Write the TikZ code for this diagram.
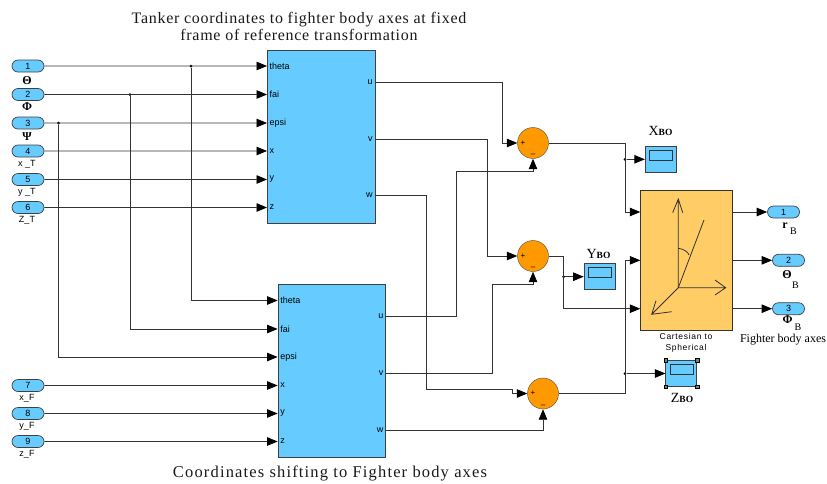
\documentclass[tikz,border=0pt]{standalone}
\usepackage{fontspec}
\setmainfont{Liberation Serif}
\setsansfont{Liberation Sans}
\newfontfamily\titlefont[LetterSpace=4.5]{Liberation Serif}
\newfontfamily\wordfont[LetterSpace=7]{Liberation Serif}
\newfontfamily\cartfont[LetterSpace=8]{Liberation Sans}
\usetikzlibrary{arrows.meta, shapes.misc}

\definecolor{portblue}{HTML}{66CCFF}
\definecolor{sumorange}{HTML}{FF9900}
\definecolor{cartorange}{HTML}{FFCC66}

\tikzset{
	x=1pt, y=-1pt,
	>={Triangle[length=10.5pt,width=8.5pt,black]},
	wire/.style={draw=black!80, line width=0.8pt},
	port/.style={draw=black!75, fill=portblue, rounded rectangle, line width=0.7pt, minimum width=32pt, minimum height=12pt, inner sep=0pt, font=\sffamily\fontsize{9}{9}\selectfont},
	block/.style={draw=black!75, fill=portblue, line width=0.9pt, minimum width=107.5pt, minimum height=173pt, inner sep=0pt},
	pin/.style={inner xsep=2.5pt, inner ysep=0pt, font=\sffamily\fontsize{9}{9}\selectfont},
	sumnode/.style={draw=black!70, fill=sumorange, circle, minimum size=31pt, inner sep=0pt},
	sign/.style={inner sep=0pt, font=\sffamily\fontsize{8}{8}\selectfont},
	scopebox/.style={draw=black!75, fill=portblue, line width=0.7pt, minimum width=31pt, minimum height=26pt, inner sep=0pt},
	screen/.style={draw=black!80, line width=0.6pt, minimum width=23pt, minimum height=10pt, inner sep=0pt},
	dot/.style={circle, fill=black, minimum size=3pt, inner sep=0pt},
	handle/.style={draw=black, fill=black!50, minimum size=3.5pt, inner sep=0pt},
	small/.style={inner sep=0pt, font=\sffamily\fontsize{9}{9}\selectfont},
	greek/.style={inner sep=0pt, font=\bfseries\fontsize{12}{12}\selectfont},
	sub/.style={inner sep=0pt, font=\fontsize{10}{10}\selectfont},
	scopelab/.style={inner sep=0pt, font=\fontsize{14}{14}\selectfont},
	title/.style={inner sep=0pt, align=center, text=black!90},
}

\newcommand{\bo}{\textbf{\fontsize{9.5}{9.5}\selectfont BO}}

\begin{document}
\begin{tikzpicture}
	\useasboundingbox (0,0) rectangle (827,483);

	\node[title, font=\titlefont\fontsize{16}{17}\selectfont] (title1) at (299,26.5) {Tanker coordinates to fighter body axes at fixed\\frame of reference transformation};
	\node[title, font=\wordfont\fontsize{16.5}{17}\selectfont] (title2) at (330,473) {Coordinates shifting to Fighter body axes};

	\foreach \n/\y in {1/66, 2/94.5, 3/123, 4/151, 5/179.5, 6/207.5, 7/385.5, 8/413.5, 9/441.5}
		\node[port] (in\n) at (28,\y) {\n};

	\node[greek] (lab1) at (27,81) {Θ};
	\node[greek] (lab2) at (27,107) {Φ};
	\node[greek] (lab3) at (27,137) {Ψ};
	\node[small] (lab4) at (27,164) {x \_T};
	\node[small] (lab5) at (27,192) {y \_T};
	\node[small] (lab6) at (27,220) {Z\_T};
	\node[small] (lab7) at (27,398) {x\_F};
	\node[small] (lab8) at (27,426) {y\_F};
	\node[small] (lab9) at (27,454) {z\_F};

	\node[block] (tanker) at (321.2,137) {};
	\node[block] (shift) at (331.8,371.2) {};

	\foreach \p/\t/\y in {theta/theta/66, fai/fai/94.5, epsi/epsi/123, x/x/151, y/y/179.5, z/z/207.5}
		\node[pin, anchor=west] (a\p) at (tanker.west |- 0,\y) {\t};
	\foreach \p/\t/\y in {theta/theta/300.5, fai/fai/329, epsi/epsi/357, x/x/385.5, y/y/413.5, z/z/441.5}
		\node[pin, anchor=west] (b\p) at (shift.west |- 0,\y) {\t};
	\foreach \p/\y in {u/82, v/139, w/195}
		\node[pin, anchor=east] (a\p) at (tanker.east |- 0,\y) {\p};
	\foreach \p/\y in {u/316.5, v/373, w/430}
		\node[pin, anchor=east] (b\p) at (shift.east |- 0,\y) {\p};

	\node[sumnode] (sum1) at (533,143) {};
	\node[sumnode] (sum2) at (533,256) {};
	\node[sumnode] (sum3) at (543,393.5) {};
	\foreach \s in {1,2,3} {
		\node[sign] (plus\s) at ([xshift=-10pt]sum\s.center) {+};
		\node[sign] (minus\s) at ([yshift=-12.5pt]sum\s.center) {--};
	}

	\node[scopebox] (xbo) at (660.7,159.3) {};
	\node[scopebox] (ybo) at (599.5,276.7) {};
	\node[scopebox] (zbo) at (681.3,373.5) {};
	\foreach \s in {xbo,ybo,zbo}
		\node[screen] (\s screen) at ([yshift=4.5pt]\s.center) {};
	\foreach \c in {north west,north east,south west,south east}
		\node[handle] (zbo \c) at (zbo.\c) {};

	\node[draw=black!80, fill=cartorange, line width=0.9pt, minimum width=92.4pt, minimum height=140.7pt, inner sep=0pt] (cart) at (686.5,260.3) {};
	\coordinate (cart1) at (640.3,212);
	\coordinate (cart2) at (640.3,260.3);
	\coordinate (cart3) at (640.3,308.7);
	\coordinate (carto1) at (732.7,212);
	\coordinate (carto2) at (732.7,260.3);
	\coordinate (carto3) at (732.7,308.7);

	\coordinate (axes) at (678.3,287.7);
	\draw[wire] (axes) -- (678.3,199) (672.7,212.7) -- (678.3,199) -- (682.7,212.7);
	\draw[wire] (axes) -- (725.7,287.7) (715,280) -- (725.7,287.7) -- (715,295);
	\draw[wire] (axes) -- (651.7,314.3) (656,300.7) -- (651.7,314.3) -- (671.7,311.7);
	\draw[wire] (axes) -- (704,220);
	\draw[wire] (678.3,248.3) .. controls (684,249) and (688,252) .. (689,255);

	\node[port] (out1) at (783.5,212) {1};
	\node[port] (out2) at (788.5,260.3) {2};
	\node[port] (out3) at (788.5,308.7) {3};

	\node[inner sep=0pt, font=\bfseries\fontsize{12}{12}\selectfont] (rlab) at (785,225.5) {r};
	\node[sub] (rsub) at (793.5,231.5) {B};
	\node[greek] (thlab) at (787,275) {Θ};
	\node[sub] (thsub) at (795.5,285) {B};
	\node[greek] (philab) at (787.5,320) {Φ};
	\node[sub] (phisub) at (798,327.5) {B};
	\node[inner sep=0pt, font=\fontsize{12}{12}\selectfont] (axeslab) at (783,340) {Fighter body axes};
	\node[small, align=center, font=\cartfont\fontsize{8.5}{10.5}\selectfont] (cartlab) at (686,343) {Cartesian to\\Spherical};

	\node[scopelab] (xlab) at (660.5,131) {X\bo};
	\node[scopelab] (ylab) at (598.5,254) {Y\bo};
	\node[scopelab] (zlab) at (682,398) {Z\bo};

	\node[dot] (jtheta) at (191,66) {};
	\node[dot] (jfai) at (130,94.5) {};
	\node[dot] (jepsi) at (58.5,123) {};
	\node[dot] (jx) at (625,159.3) {};
	\node[dot] (jy) at (563.7,276.7) {};
	\node[dot] (jz) at (625,373.5) {};

	\draw [wire, every edge/.append style={->, wire}]
		(in1) edge (atheta.west)
		(in2) edge (afai.west)
		(in3) edge (aepsi.west)
		(in4) edge (ax.west)
		(in5) edge (ay.west)
		(in6) edge (az.west)
		(in7) edge (bx.west)
		(in8) edge (by.west)
		(in9) edge (bz.west)
		(jx) edge (xbo.west)
		(jy) edge (ybo.west)
		(jz) edge (zbo.west)
		(carto1) edge (out1.west)
		(carto2) edge (out2.west)
		(carto3) edge (out3.west)
		;

	\draw[->, wire] (jtheta) |- (btheta.west);
	\draw[->, wire] (jfai) |- (bfai.west);
	\draw[->, wire] (jepsi) |- (bepsi.west);

	\draw[->, wire] (au.east) -- (502.7,82) |- (sum1.west);
	\draw[->, wire] (av.east) -- (487.7,139) |- (sum2.west);
	\draw[->, wire] (aw.east) -- (426,195) |- (512.5,389.5) |- (sum3.west);
	\draw[->, wire] (bu.east) -| (456.7,171.7) -| (sum1.south);
	\draw[->, wire] (bv.east) -| (492.7,284.3) -| (sum2.south);
	\draw[->, wire] (bw.east) -| (sum3.south);

	\draw[->, wire] (sum1.east) -- (625,143) |- (cart1);
	\draw[->, wire] (sum2.east) -- (563.7,256) |- (cart3);
	\draw[->, wire] (sum3.east) -- (625,393.5) |- (cart2);
\end{tikzpicture}
\end{document}
